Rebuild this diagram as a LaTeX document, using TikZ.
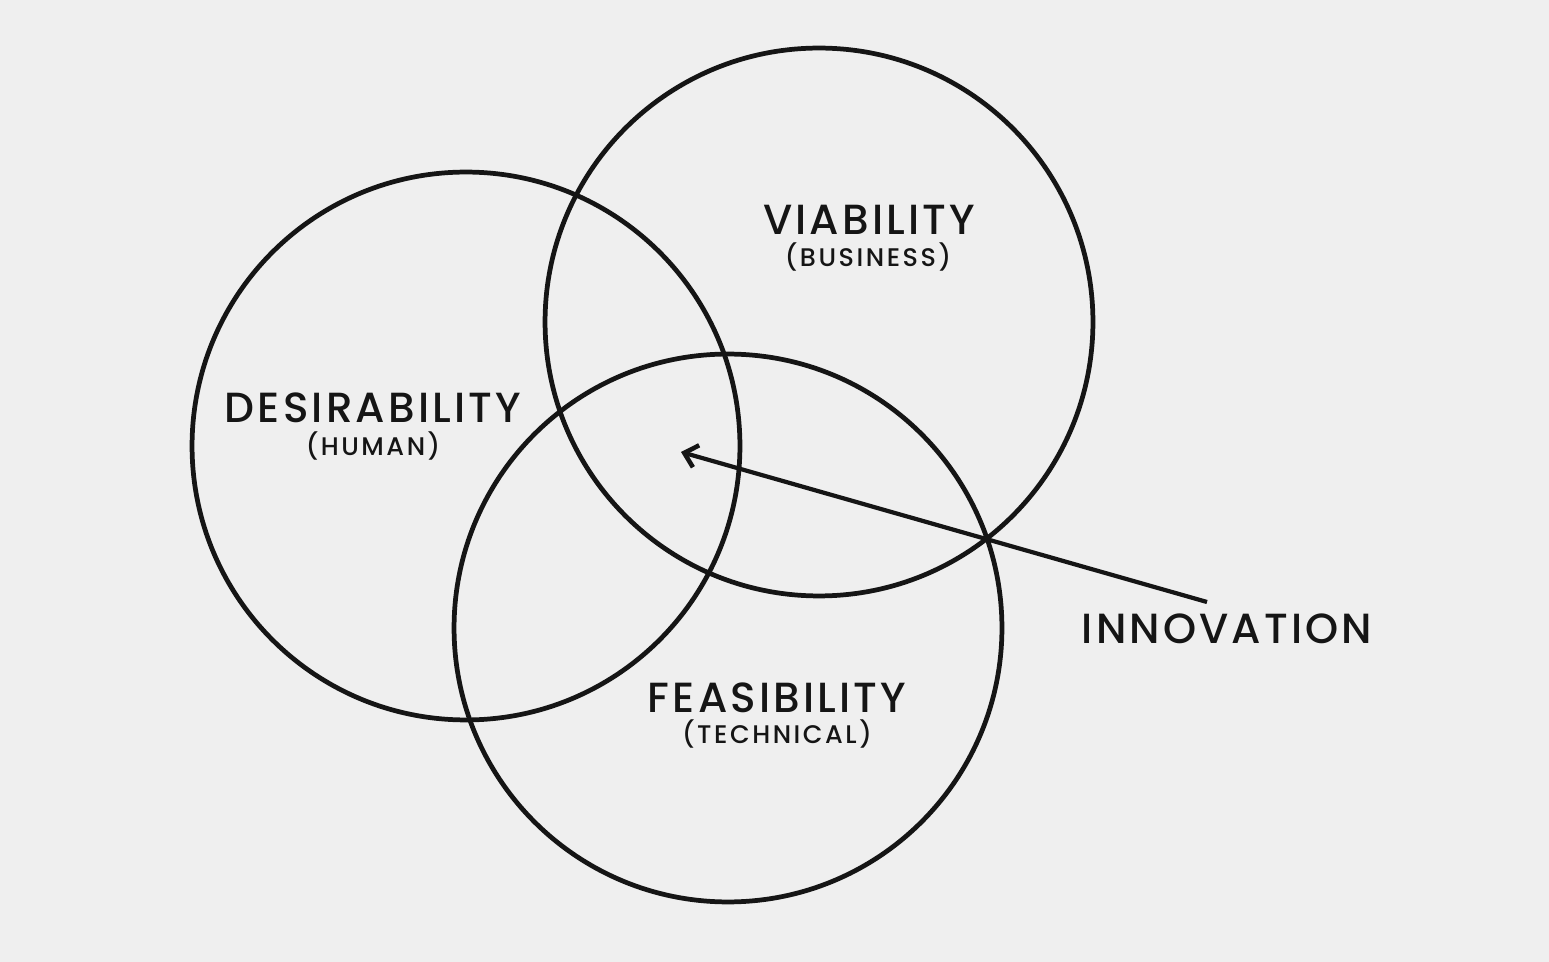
\documentclass[tikz,border=0pt]{standalone}
\usepackage{fontspec}
\setmainfont{Poppins}[UprightFont=* Medium]
\newfontfamily\wideface{Poppins}[UprightFont=* Medium, LetterSpace=7.5]
\newfontfamily\widesub{Poppins}[UprightFont=* Medium, LetterSpace=10]
\usetikzlibrary{arrows.meta}
\definecolor{paper}{HTML}{EFEFEF}
\definecolor{ink}{HTML}{151515}
\tikzset{
  ring/.style={circle, draw=ink, line width=2.7pt, minimum size=10.96cm, inner sep=0pt},
  title/.style={anchor=base, text=ink, font=\wideface\fontsize{24}{28}\selectfont},
  subtitle/.style={anchor=base, text=ink, font=\widesub\fontsize{14.5}{17}\selectfont},
}
\begin{document}
\begin{tikzpicture}[x=0.02cm, y=-0.02cm]

        \fill[paper] (0,0) rectangle (1549,962);
        \useasboundingbox (0,0) rectangle (1549,962);

        % the three circles
        \node[ring] (human) at (466,446) {};
        \node[ring] (business) at (819,322) {};
        \node[ring] (technical) at (728,628) {};

        % labels
        \node[title] (desire) at (373,423) {DESIRABILITY};
        \node[subtitle] (desiresub) at (373,456) {(HUMAN)};

        \node[title] (viable) at (869,235) {VIABILITY};
        \node[subtitle] (viablesub) at (868,267) {(BUSINESS)};

        \node[title] (feasible) at (777,712) {FEASIBILITY};
        \node[subtitle] (feasiblesub) at (777,744) {(TECHNICAL)};

        \node[title] (innov) at (1227,643) {INNOVATION};

        % arrow into the middle
        \coordinate (tail) at (1207,602);
        \coordinate (tip) at (681,452);
        \draw[ink, line width=2.4pt, -{Straight Barb[length=7pt, width=13pt, line width=2.6pt]}] (tail) -- (tip);
    \end{tikzpicture}
\end{document}
